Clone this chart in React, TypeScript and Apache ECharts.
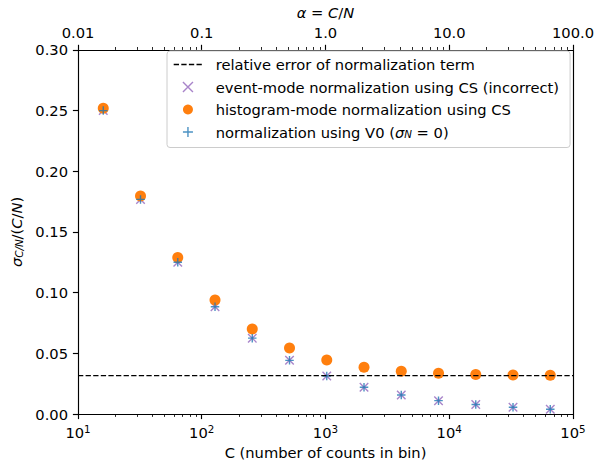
import React, { useEffect, useRef } from "react";
import * as echarts from "echarts";

// Counts per bin (C), powers of two from 2^4 to 2^16
const countsC = [16, 32, 64, 128, 256, 512, 1024, 2048, 4096, 8192, 16384, 32768, 65536];
// Relative uncertainty sigma_{C/N}/(C/N) for each method
const eventModeCS = [0.25, 0.1768, 0.125, 0.0884, 0.0625, 0.0442, 0.03125, 0.0221, 0.0156, 0.011, 0.0078, 0.0055, 0.0039];
const histogramModeCS = [0.252, 0.1796, 0.1289, 0.0939, 0.07, 0.0543, 0.0445, 0.0386, 0.0353, 0.0335, 0.0326, 0.0321, 0.0319];
const normalizationV0 = [0.25, 0.1768, 0.125, 0.0884, 0.0625, 0.0442, 0.03125, 0.0221, 0.0156, 0.011, 0.0078, 0.0055, 0.0039];
// Relative error of the normalization term
const normTermError = 0.0316;

const seriesNames = [
  "relative error of normalization term",
  "event-mode normalization using CS (incorrect)",
  "histogram-mode normalization using CS",
  "normalization using V0 (sigma_N = 0)",
];

// Axis ranges and ticks
const cRange = [10, 100000];
const cMajorTicks = [10, 100, 1000, 10000, 100000];
const cTickExponents = ["1", "2", "3", "4", "5"];
const alphaRange = [0.01, 100];
const alphaMajorTicks = [0.01, 0.1, 1, 10, 100];
const alphaTickLabels = ["0.01", "0.1", "1.0", "10.0", "100.0"];
const yRange = [0, 0.3];
const yStep = 0.05;

const FONT = "DejaVu Sans";
const FS = 14.7;
const FS_SMALL = 10.3;
const TICK_MAJOR = 5.1;
const TICK_MINOR = 2.9;
const AXIS_W = 1.15;
const LABEL_MARGIN = 10;

const COLORS = {
  line: "#000000",
  purple: "#9467bd",
  orange: "#ff7f0e",
  blue: "#1f77b4",
};

const DASH = [5.3, 2.3];
const CROSS_X = "path://M0,0L10,10M10,0L0,10";
const CROSS_PLUS = "path://M5,0L5,10M0,5L10,5";

// Decade sub-divisions (2..9 x 10^n) between consecutive major ticks
function minorTicks(majors: number[]): number[] {
  const out: number[] = [];
  for (let i = 0; i < majors.length - 1; i++) {
    for (let k = 2; k <= 9; k++) out.push(+(majors[i] * k).toPrecision(6));
  }
  return out;
}

function makeRich(lh: number): any {
  return {
    t: { fontFamily: FONT, fontSize: FS, color: "#000", lineHeight: lh },
    i: { fontFamily: FONT, fontSize: FS, color: "#000", fontStyle: "italic", lineHeight: lh },
    sub: { fontFamily: FONT, fontSize: FS_SMALL, color: "#000", fontStyle: "italic", lineHeight: lh / 2, verticalAlign: "bottom" },
    sup: { fontFamily: FONT, fontSize: FS_SMALL, color: "#000", lineHeight: 6, verticalAlign: "top" },
  };
}
const rich = makeRich(16);
const legendRich = makeRich(14);

function legendLabel(name: string): string {
  if (name === seriesNames[3]) return "{t|normalization using V0 (}{i|σ}{sub|N}{t| = 0)}";
  return "{t|" + name + "}";
}

export default function App() {
  const ref = useRef<HTMLDivElement>(null);

  useEffect(() => {
    if (!ref.current) return;
    const chart = echarts.init(ref.current, null, { renderer: "svg" });

    const xy = (ys: number[]) => countsC.map((c, i) => [c, ys[i]]);

    const hiddenAxisParts = {
      axisLabel: { show: false },
      splitLine: { show: false },
    };

    const option: any = {
      animation: false,
      backgroundColor: "#ffffff",
      textStyle: { fontFamily: FONT },
      grid: { left: 78, right: 23, top: 44, bottom: 55, containLabel: false },
      xAxis: [
        {
          type: "log",
          logBase: 10,
          position: "bottom",
          min: cRange[0],
          max: cRange[1],
          axisLine: { onZero: false, lineStyle: { color: "#000", width: AXIS_W } },
          axisTick: { customValues: cMajorTicks, length: TICK_MAJOR, lineStyle: { color: "#000", width: AXIS_W } },
          axisLabel: {
            customValues: cMajorTicks,
            margin: LABEL_MARGIN,
            formatter: (v: number) => {
              const idx = cMajorTicks.findIndex((m) => Math.abs(Math.log10(m) - Math.log10(v)) < 1e-6);
              return "{t|10}{sup|" + cTickExponents[idx] + "}";
            },
            rich,
          },
          splitLine: { show: false },
          name: "C (number of counts in bin)",
          nameLocation: "middle",
          nameGap: 31,
          nameTextStyle: { fontFamily: FONT, fontSize: FS, color: "#000" },
        },
        {
          type: "log",
          logBase: 10,
          position: "bottom",
          min: cRange[0],
          max: cRange[1],
          ...hiddenAxisParts,
          axisLine: { show: false, onZero: false },
          axisTick: { customValues: minorTicks(cMajorTicks), length: TICK_MINOR, lineStyle: { color: "#000", width: 0.85 } },
        },
        {
          type: "log",
          logBase: 10,
          position: "top",
          min: alphaRange[0],
          max: alphaRange[1],
          axisLine: { onZero: false, lineStyle: { color: "#000", width: AXIS_W } },
          axisTick: { customValues: alphaMajorTicks, length: TICK_MAJOR, lineStyle: { color: "#000", width: AXIS_W } },
          axisLabel: {
            customValues: alphaMajorTicks,
            margin: LABEL_MARGIN,
            fontFamily: FONT,
            fontSize: FS,
            color: "#000",
            formatter: (v: number) => {
              const idx = alphaMajorTicks.findIndex((m) => Math.abs(Math.log10(m) - Math.log10(v)) < 1e-6);
              return alphaTickLabels[idx];
            },
          },
          splitLine: { show: false },
          name: "{i|α}{t| = }{i|C}{t|/}{i|N}",
          nameLocation: "middle",
          nameGap: 28,
          nameTextStyle: { rich },
        },
        {
          type: "log",
          logBase: 10,
          position: "top",
          min: alphaRange[0],
          max: alphaRange[1],
          ...hiddenAxisParts,
          axisLine: { show: false, onZero: false },
          axisTick: { customValues: minorTicks(alphaMajorTicks), length: TICK_MINOR, lineStyle: { color: "#000", width: 0.85 } },
        },
      ],
      yAxis: [
        {
          type: "value",
          position: "left",
          min: yRange[0],
          max: yRange[1],
          interval: yStep,
          axisLine: { show: true, onZero: false, lineStyle: { color: "#000", width: AXIS_W } },
          axisTick: { show: true, length: TICK_MAJOR, lineStyle: { color: "#000", width: AXIS_W } },
          axisLabel: {
            margin: LABEL_MARGIN,
            fontFamily: FONT,
            fontSize: FS,
            color: "#000",
            formatter: (v: number) => v.toFixed(2),
          },
          splitLine: { show: false },
          name: "{i|σ}{sub|C/N}{t|/(}{i|C}{t|/}{i|N}{t|)}",
          nameLocation: "middle",
          nameRotate: 90,
          nameGap: 49,
          nameTextStyle: { rich },
        },
        {
          type: "value",
          position: "right",
          min: yRange[0],
          max: yRange[1],
          axisLine: { show: true, onZero: false, lineStyle: { color: "#000", width: AXIS_W } },
          axisTick: { show: false },
          axisLabel: { show: false },
          splitLine: { show: false },
        },
      ],
      legend: {
        orient: "vertical",
        left: 167,
        top: 51,
        padding: [6, 11, 8, 6],
        itemWidth: 28.5,
        itemHeight: 10,
        itemGap: 7.5,
        backgroundColor: "rgba(255,255,255,0.8)",
        borderColor: "#cccccc",
        borderWidth: 1,
        borderRadius: 3,
        textStyle: { fontFamily: FONT, fontSize: FS, color: "#000", lineHeight: 14, padding: [0, 0, 0, 8.5], rich: legendRich },
        formatter: legendLabel,
        data: [
          {
            name: seriesNames[0],
            itemStyle: { opacity: 0 },
            lineStyle: { color: COLORS.line, width: 1.4, type: DASH },
          },
          { name: seriesNames[1], itemStyle: { borderWidth: 1.4, borderColor: COLORS.purple } },
          { name: seriesNames[2] },
          { name: seriesNames[3], itemStyle: { borderWidth: 1.4, borderColor: COLORS.blue } },
        ],
      },
      series: [
        {
          name: seriesNames[0],
          type: "line",
          xAxisIndex: 0,
          yAxisIndex: 0,
          data: [
            [cRange[0], normTermError],
            [cRange[1], normTermError],
          ],
          symbol: "none",
          lineStyle: { color: COLORS.line, width: 1.4, type: DASH },
          itemStyle: { color: COLORS.line },
        },
        {
          name: seriesNames[1],
          type: "scatter",
          xAxisIndex: 0,
          yAxisIndex: 0,
          data: xy(eventModeCS),
          symbol: CROSS_X,
          symbolSize: 8.5,
          symbolKeepAspect: true,
          itemStyle: { color: COLORS.purple, borderColor: COLORS.purple, borderWidth: 1.4 },
        },
        {
          name: seriesNames[2],
          type: "scatter",
          xAxisIndex: 0,
          yAxisIndex: 0,
          data: xy(histogramModeCS),
          symbol: "circle",
          symbolSize: 11,
          itemStyle: { color: COLORS.orange, opacity: 1 },
        },
        {
          name: seriesNames[3],
          type: "scatter",
          xAxisIndex: 0,
          yAxisIndex: 0,
          data: xy(normalizationV0),
          symbol: CROSS_PLUS,
          symbolSize: 8.5,
          symbolKeepAspect: true,
          itemStyle: { color: COLORS.blue, borderColor: COLORS.blue, borderWidth: 1.4 },
        },
      ],
    };

    chart.setOption(option);
    return () => chart.dispose();
  }, []);

  return (
    <div
      ref={ref}
      style={{ position: "fixed", left: 0, top: 0, width: 597, height: 469, background: "#fff" }}
    />
  );
}
